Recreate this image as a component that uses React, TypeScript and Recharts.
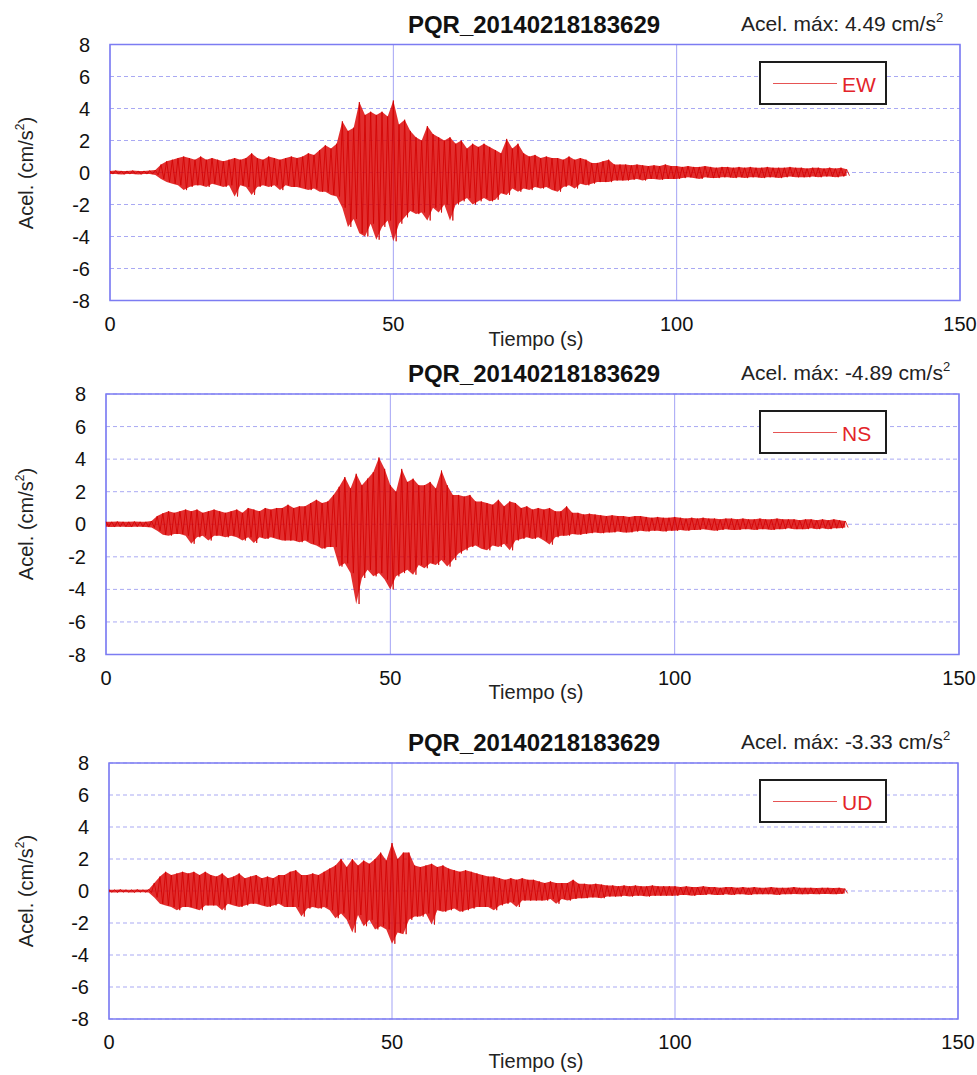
import React from "react";
import {
  ComposedChart,
  Line,
  Area,
  XAxis,
  YAxis,
  CartesianGrid,
  ReferenceArea,
} from "recharts";

// one value per second, t = 0..130 s (upper / lower extent of the trace)
const ewHi = [
  0.1, 0.12, 0.1, 0.1, 0.12, 0.1, 0.1, 0.12, 0.15, 0.5,
  0.7, 0.8, 0.9, 1.0, 0.9, 0.8, 1.0, 0.8, 0.9, 0.8,
  0.7, 0.8, 0.9, 0.8, 0.9, 1.2, 0.9, 0.8, 1.0, 0.9,
  0.8, 0.9, 1.0, 0.9, 1.0, 1.2, 1.1, 1.4, 1.7, 1.5,
  1.8, 3.2, 2.6, 2.8, 4.4, 3.6, 3.8, 3.6, 3.8, 3.5,
  4.5, 3.0, 3.3, 2.6, 2.2, 2.0, 2.9, 2.4, 2.2, 2.0,
  2.2, 1.8, 2.0, 1.5, 1.8, 1.6, 1.8, 1.6, 1.4, 1.2,
  2.1, 1.5, 1.8, 1.2, 1.0, 1.1, 0.9, 1.0, 0.9, 0.9,
  0.8, 1.0, 0.8, 0.9, 0.8, 0.6, 0.6, 0.7, 0.8, 0.5,
  0.5, 0.5, 0.45, 0.5, 0.45, 0.4, 0.45, 0.4, 0.5, 0.4,
  0.4, 0.35, 0.4, 0.35, 0.35, 0.4, 0.35, 0.3, 0.35, 0.35,
  0.3, 0.35, 0.3, 0.35, 0.3, 0.3, 0.35, 0.3, 0.3, 0.3,
  0.35, 0.3, 0.3, 0.25, 0.3, 0.3, 0.25, 0.3, 0.25, 0.3,
  0.2,
];
const ewLo = [
  -0.1, -0.1, -0.12, -0.1, -0.1, -0.12, -0.1, -0.1, -0.15, -0.4,
  -0.6, -0.7, -0.8, -1.1, -0.9, -0.8, -0.8, -0.9, -0.7, -0.8,
  -0.9, -0.8, -1.5, -0.8, -0.9, -1.4, -0.9, -0.8, -0.9, -0.8,
  -1.1, -0.8, -0.9, -0.9, -1.0, -1.1, -1.0, -1.2, -1.2, -1.4,
  -1.5, -2.2, -3.4, -2.9, -3.8, -4.0, -3.2, -4.2, -3.4, -3.0,
  -4.3, -3.2, -2.8, -2.4, -2.6, -2.5, -3.0, -2.2, -2.5, -2.0,
  -3.0, -2.0, -1.8, -1.6, -2.0, -1.8, -1.6, -1.8, -1.7, -1.3,
  -1.4, -1.0, -1.2, -1.0, -1.1, -0.9, -1.0, -0.9, -1.1, -1.2,
  -0.9, -0.8, -1.0, -0.7, -0.8, -0.7, -0.6, -0.6, -0.6, -0.5,
  -0.5, -0.5, -0.45, -0.4, -0.5, -0.4, -0.4, -0.45, -0.4, -0.4,
  -0.4, -0.35, -0.3, -0.35, -0.4, -0.3, -0.35, -0.35, -0.3, -0.3,
  -0.35, -0.3, -0.35, -0.3, -0.3, -0.35, -0.3, -0.3, -0.35, -0.3,
  -0.25, -0.3, -0.3, -0.3, -0.25, -0.3, -0.25, -0.25, -0.3, -0.25,
  -0.2,
];

const nsHi = [
  0.15, 0.15, 0.17, 0.15, 0.15, 0.17, 0.15, 0.15, 0.2, 0.5,
  0.67, 0.8, 0.7, 0.8, 0.9, 0.8, 0.9, 0.7, 0.8, 0.9,
  0.8, 0.7, 0.8, 0.9, 0.7, 1.0, 0.9, 0.8, 1.0, 0.9,
  1.0, 1.0, 1.2, 1.0, 1.1, 1.1, 1.3, 1.5, 1.3, 1.4,
  1.8, 2.3, 2.9, 2.2, 3.1, 2.4, 2.8, 3.2, 4.1, 3.4,
  2.4, 2.0, 3.4, 2.6, 2.8, 2.4, 2.4, 2.6, 2.2, 3.3,
  2.4, 1.8, 1.8, 1.7, 1.8, 1.4, 1.4, 1.3, 1.2, 1.5,
  1.1, 1.4, 1.3, 1.0, 1.1, 0.9, 1.0, 0.9, 1.0, 0.8,
  0.8, 1.1, 0.7, 0.7, 0.6, 0.65, 0.6, 0.55, 0.5, 0.55,
  0.5, 0.5, 0.45, 0.5, 0.5, 0.45, 0.4, 0.45, 0.4, 0.4,
  0.45, 0.4, 0.35, 0.4, 0.35, 0.4, 0.35, 0.35, 0.3, 0.35,
  0.35, 0.3, 0.35, 0.3, 0.3, 0.35, 0.3, 0.3, 0.35, 0.3,
  0.3, 0.3, 0.25, 0.3, 0.3, 0.25, 0.3, 0.25, 0.3, 0.25,
  0.2,
];
const nsLo = [
  -0.15, -0.17, -0.15, -0.15, -0.17, -0.15, -0.15, -0.17, -0.2, -0.4,
  -0.65, -0.7, -0.6, -0.6, -0.7, -1.2, -0.8, -0.7, -1.0, -0.7,
  -0.7, -0.8, -0.7, -0.8, -1.0, -0.8, -1.15, -0.8, -0.9, -0.8,
  -0.9, -1.0, -1.0, -1.0, -1.1, -1.0, -1.2, -1.3, -1.5, -1.4,
  -1.4, -2.6, -2.4, -3.0, -4.9, -3.3, -2.8, -3.2, -3.0, -3.4,
  -4.0, -3.2, -3.0, -2.8, -3.1, -2.5, -2.7, -2.4, -2.5, -2.2,
  -2.6, -2.2, -1.8, -1.6, -1.4, -1.3, -1.5, -1.6, -1.3, -1.4,
  -1.2, -1.6, -1.0, -0.9, -0.8, -0.9, -0.8, -1.0, -1.25, -0.8,
  -0.7, -0.7, -0.6, -0.65, -0.6, -0.55, -0.5, -0.55, -0.5, -0.5,
  -0.45, -0.5, -0.5, -0.45, -0.4, -0.45, -0.4, -0.4, -0.45, -0.4,
  -0.4, -0.35, -0.4, -0.35, -0.35, -0.3, -0.35, -0.4, -0.35, -0.3,
  -0.35, -0.35, -0.3, -0.3, -0.35, -0.3, -0.3, -0.35, -0.3, -0.3,
  -0.25, -0.3, -0.3, -0.3, -0.25, -0.3, -0.25, -0.3, -0.25, -0.25,
  -0.2,
];

const udHi = [
  0.08, 0.08, 0.1, 0.08, 0.08, 0.1, 0.08, 0.1, 0.5, 0.9,
  1.2, 1.0, 1.1, 1.2, 1.1, 1.2, 1.0, 1.2, 1.0, 0.9,
  1.1, 0.8, 0.9, 1.1, 0.8, 0.9, 1.0, 0.8, 0.9, 0.8,
  1.0, 1.0, 1.2, 1.3, 1.0, 1.0, 1.1, 1.0, 1.2, 1.4,
  1.6, 2.0, 1.5, 2.0, 1.6, 1.9, 1.7, 2.0, 2.4, 1.9,
  3.0, 2.0, 2.4, 2.4, 1.6, 1.5, 1.6, 1.7, 1.5, 1.6,
  1.4, 1.3, 1.2, 1.3, 1.2, 1.1, 1.0, 0.9, 0.9, 0.8,
  0.7, 0.8, 0.7, 0.8, 0.7, 0.7, 0.6, 0.5, 0.6, 0.5,
  0.5, 0.5, 0.7, 0.45, 0.45, 0.4, 0.45, 0.4, 0.35, 0.35,
  0.3, 0.35, 0.3, 0.35, 0.3, 0.3, 0.35, 0.3, 0.3, 0.3,
  0.3, 0.25, 0.3, 0.25, 0.25, 0.3, 0.25, 0.25, 0.2, 0.25,
  0.25, 0.2, 0.25, 0.2, 0.25, 0.2, 0.2, 0.25, 0.2, 0.2,
  0.2, 0.25, 0.2, 0.2, 0.2, 0.18, 0.2, 0.2, 0.18, 0.2,
  0.15,
];
const udLo = [
  -0.08, -0.1, -0.08, -0.08, -0.1, -0.08, -0.08, -0.1, -0.4, -0.8,
  -0.9, -1.0, -1.2, -1.0, -1.0, -1.1, -1.2, -0.9, -0.9, -0.9,
  -1.2, -0.8, -0.9, -1.0, -0.9, -0.8, -0.8, -0.9, -1.0, -0.9,
  -0.8, -1.0, -1.0, -1.0, -1.6, -1.1, -1.0, -1.1, -1.0, -1.2,
  -1.7, -1.4, -1.8, -2.6, -1.5, -2.2, -1.8, -2.4, -2.2, -2.4,
  -3.3, -2.6, -2.7, -1.8, -1.6, -1.6, -1.4, -2.1, -1.2, -1.3,
  -1.2, -1.1, -1.3, -1.2, -1.1, -1.0, -1.0, -1.0, -1.2, -0.9,
  -0.8, -0.7, -1.0, -0.6, -0.6, -0.6, -0.6, -0.6, -0.5, -0.8,
  -0.5, -0.6, -0.5, -0.45, -0.45, -0.4, -0.4, -0.45, -0.35, -0.35,
  -0.35, -0.3, -0.35, -0.3, -0.3, -0.35, -0.3, -0.3, -0.3, -0.3,
  -0.3, -0.25, -0.25, -0.3, -0.25, -0.25, -0.2, -0.25, -0.25, -0.2,
  -0.25, -0.2, -0.2, -0.25, -0.2, -0.2, -0.2, -0.2, -0.25, -0.2,
  -0.2, -0.18, -0.2, -0.2, -0.18, -0.2, -0.18, -0.18, -0.2, -0.18,
  -0.15,
];

const xTicks = [0, 50, 100, 150];
const yTicks = [-8, -6, -4, -2, 0, 2, 4, 6, 8];
const stationTitle = "PQR_20140218183629";

const FONT = '"Liberation Sans", Arial, Helvetica, sans-serif';

// trace: upper value on the second, lower value half a second later
function buildRows(hi: number[], lo: number[]) {
  const rows: { t: number; v: number; band?: [number, number] }[] = [];
  hi.forEach((h, i) => {
    rows.push({ t: i, v: h, band: [lo[i], h] });
    rows.push({ t: i + 0.5, v: lo[i] });
  });
  return rows;
}

interface PanelProps {
  cTop: number;
  cH: number;
  plotTop: number;
  plotBottom: number;
  plotLeft: number;
  plotRight: number;
  xLabelY: number;
  hi: number[];
  lo: number[];
  comp: string;
  peak: string;
}

const Panel = (p: PanelProps) => {
  const rows = buildRows(p.hi, p.lo);
  const rel = (y: number) => Math.round(y - p.cTop);
  const midY = (p.plotTop + p.plotBottom) / 2;

  return (
    <div
      style={{
        position: "absolute",
        left: 0,
        top: p.cTop,
        width: 977,
        height: p.cH,
        fontFamily: FONT,
      }}
    >
      <ComposedChart
        width={977}
        height={p.cH}
        data={rows}
        margin={{ top: p.plotTop - p.cTop, right: 977 - p.plotRight, bottom: 0, left: 0 }}
      >
        <CartesianGrid vertical={false} stroke="#a9a9f3" strokeDasharray="4 3" />
        <CartesianGrid horizontal={false} stroke="#a3a3f5" />
        <XAxis
          type="number"
          dataKey="t"
          domain={[0, 150]}
          ticks={xTicks}
          height={p.cTop + p.cH - p.plotBottom}
          axisLine={false}
          tickLine={false}
          tickSize={0}
          tickMargin={16}
          tick={{ fill: "#111", fontSize: 20, fontFamily: FONT }}
        />
        <YAxis
          type="number"
          domain={[-8, 8]}
          ticks={yTicks}
          width={p.plotLeft}
          axisLine={false}
          tickLine={false}
          tickSize={0}
          tickMargin={20}
          tick={{ fill: "#111", fontSize: 20, fontFamily: FONT }}
        />
        <ReferenceArea x1={0} x2={150} y1={-8} y2={8} fill="none" stroke="#7c7cf2" strokeWidth={1.5} />
        <Area
          dataKey="band"
          type="linear"
          connectNulls
          stroke="none"
          fill="#dc0000"
          fillOpacity={0.82}
          isAnimationActive={false}
        />
        <Line
          dataKey="v"
          type="linear"
          stroke="#d20000"
          strokeWidth={0.8}
          dot={false}
          isAnimationActive={false}
        />
      </ComposedChart>

      <div
        style={{
          position: "absolute",
          left: 534,
          top: rel(p.plotTop - 20),
          transform: "translate(-50%, -50%)",
          fontSize: 24,
          fontWeight: "bold",
          lineHeight: 1,
          whiteSpace: "nowrap",
          color: "#111",
        }}
      >
        {stationTitle}
      </div>

      <div
        style={{
          position: "absolute",
          left: 741,
          top: rel(p.plotTop - 23),
          transform: "translateY(-50%)",
          fontSize: 21,
          lineHeight: 1,
          whiteSpace: "nowrap",
          color: "#222",
        }}
      >
        Acel. máx: {p.peak} cm/s<sup style={{ fontSize: 13, verticalAlign: 9 }}>2</sup>
      </div>

      <div
        style={{
          position: "absolute",
          left: 25,
          top: rel(midY),
          transform: "translate(-50%, -50%) rotate(-90deg)",
          fontSize: 20,
          lineHeight: 1,
          whiteSpace: "nowrap",
          color: "#222",
        }}
      >
        Acel. (cm/s<sup style={{ fontSize: 12, verticalAlign: 9 }}>2</sup>)
      </div>

      <div
        style={{
          position: "absolute",
          left: 536,
          top: rel(p.xLabelY),
          transform: "translate(-50%, -50%)",
          fontSize: 20,
          lineHeight: 1,
          whiteSpace: "nowrap",
          color: "#222",
        }}
      >
        Tiempo (s)
      </div>

      <div
        style={{
          position: "absolute",
          left: 759,
          top: rel(p.plotTop + 16),
          width: 124,
          height: 40,
          border: "2px solid #1d1d1d",
          background: "#fff",
        }}
      >
        <div
          style={{
            position: "absolute",
            left: 12,
            top: 20,
            width: 64,
            height: 1,
            background: "#e65454",
          }}
        />
        <div
          style={{
            position: "absolute",
            left: 81,
            top: 21,
            transform: "translateY(-50%)",
            fontSize: 21,
            lineHeight: 1,
            color: "#e3242a",
          }}
        >
          {p.comp}
        </div>
      </div>
    </div>
  );
};

export default function App() {
  return (
    <div style={{ position: "absolute", left: 0, top: 0, width: 977, height: 1075, background: "#fff" }}>
      <Panel cTop={0} cH={350} plotTop={44.5} plotBottom={300.5} plotLeft={110} plotRight={960}
        xLabelY={339} hi={ewHi} lo={ewLo} comp="EW" peak="4.49" />
      <Panel cTop={350} cH={353} plotTop={394} plotBottom={654.5} plotLeft={106} plotRight={959}
        xLabelY={692} hi={nsHi} lo={nsLo} comp="NS" peak="-4.89" />
      <Panel cTop={703} cH={372} plotTop={763} plotBottom={1019} plotLeft={109} plotRight={958}
        xLabelY={1061} hi={udHi} lo={udLo} comp="UD" peak="-3.33" />
    </div>
  );
}
